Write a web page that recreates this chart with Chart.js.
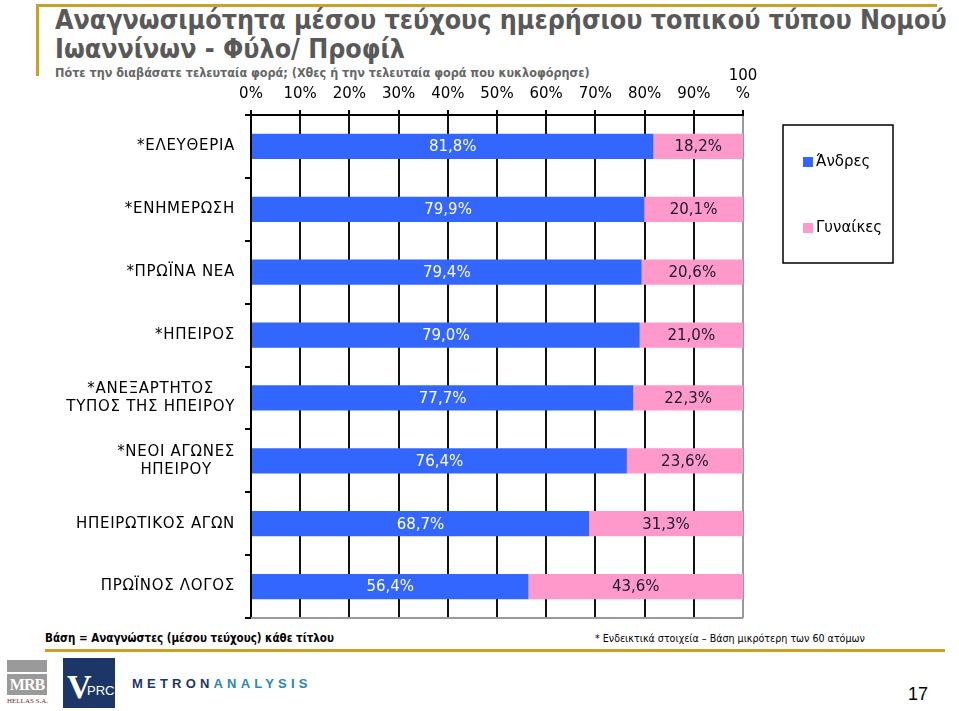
<!DOCTYPE html>
<html lang="el">
<head>
<meta charset="utf-8">
<title>Αναγνωσιμότητα - Φύλο</title>
<script src="https://cdn.jsdelivr.net/npm/chart.js@4.4.1/dist/chart.umd.min.js"></script>
<style>
  body { margin: 0; background: #fff; }
  #page { position: relative; width: 959px; height: 711px; overflow: hidden; font-family: "DejaVu Sans", sans-serif; }
  .gold-h { position: absolute; left: 37px; top: 4px; width: 900px; height: 3px; background: #c9a227; }
  .gold-v { position: absolute; left: 36px; top: 4px; width: 3px; height: 72px; background: #c9a227; }
  #title { position: absolute; left: 55px; top: 5px; font: bold 26.6px "DejaVu Sans Condensed", "DejaVu Sans", sans-serif; color: #595959; line-height: 29px; white-space: nowrap; }
  #subtitle { position: absolute; left: 55px; top: 65px; font: bold 12.5px "DejaVu Sans Condensed", "DejaVu Sans", sans-serif; color: #666; white-space: nowrap; }
  #chart-wrap { position: absolute; left: 0; top: 60px; width: 959px; height: 570px; }
  .foot-l { position: absolute; left: 45px; top: 631px; font: bold 11.5px "DejaVu Sans Condensed", "DejaVu Sans", sans-serif; color: #000; white-space: nowrap; }
  .foot-r { position: absolute; left: 595px; top: 632px; font: 10.6px "DejaVu Sans Condensed", "DejaVu Sans", sans-serif; color: #000; white-space: nowrap; }
  .gold-f { position: absolute; left: 45px; top: 649px; width: 900px; height: 3px; background: #c9a227; }
  .mrb-bar { position: absolute; left: 7px; top: 660px; width: 40px; height: 12px; background: #9a9a9a; }
  .mrb-box { position: absolute; left: 7px; top: 674px; width: 40px; height: 21px; background: #9a9a9a; color: #fff; font: bold 16px "Liberation Serif", serif; text-align: center; line-height: 22px; letter-spacing: -1px; }
  .mrb-sub { position: absolute; left: 7px; top: 697px; width: 40px; font: 7px "Liberation Serif", serif; color: #7a2a2a; text-align: center; white-space: nowrap; }
  .vprc { position: absolute; left: 63px; top: 658px; width: 52px; height: 50px; background: #1c3767; color: #fff; }
  .vprc .v { position: absolute; left: 4px; top: 10px; font: bold 34px "Liberation Serif", serif; }
  .vprc .prc { position: absolute; left: 24px; top: 25px; font: 13px "Liberation Sans", sans-serif; }
  .metron { position: absolute; left: 132px; top: 676px; font: bold 13px "Liberation Sans", sans-serif; letter-spacing: 4.2px; white-space: nowrap; }
  .metron .a { color: #1c3767; }
  .metron .b { color: #2a86b8; }
  .pageno { position: absolute; left: 908px; top: 684px; font: 18px "Liberation Sans", sans-serif; color: #000; }
</style>
</head>
<body>
<div id="page">
  <div class="gold-h"></div>
  <div class="gold-v"></div>
  <div id="title">Αναγνωσιμότητα μέσου τεύχους ημερήσιου τοπικού τύπου Νομού<br>Ιωαννίνων - Φύλο/ Προφίλ</div>
  <div id="subtitle">Πότε την διαβάσατε τελευταία φορά; (Χθες ή την τελευταία φορά που κυκλοφόρησε)</div>
  <div id="chart-wrap"><canvas id="genderChart"></canvas></div>
  <div class="foot-l">Βάση = Αναγνώστες (μέσου τεύχους) κάθε τίτλου</div>
  <div class="foot-r">* Ενδεικτικά στοιχεία – Βάση μικρότερη των 60 ατόμων</div>
  <div class="gold-f"></div>
  <div class="mrb-bar"></div>
  <div class="mrb-box">MRB</div>
  <div class="mrb-sub">HELLAS S.A.</div>
  <div class="vprc"><span class="v">V</span><span class="prc">PRC</span></div>
  <div class="metron"><span class="a">METRON</span><span class="b">ANALYSIS</span></div>
  <div class="pageno">17</div>
</div>
<script>
// titles (categories), top to bottom
const categories = [
    '*ΕΛΕΥΘΕΡΙΑ',
    '*ΕΝΗΜΕΡΩΣΗ',
    '*ΠΡΩΪΝΑ ΝΕΑ',
    '*ΗΠΕΙΡΟΣ',
    ['*ΑΝΕΞΑΡΤΗΤΟΣ', 'ΤΥΠΟΣ ΤΗΣ ΗΠΕΙΡΟΥ'],
    ['*ΝΕΟΙ ΑΓΩΝΕΣ', 'ΗΠΕΙΡΟΥ'],
    'ΗΠΕΙΡΩΤΙΚΟΣ ΑΓΩΝ',
    'ΠΡΩΪΝΟΣ ΛΟΓΟΣ'
];
const seriesNames = ['Άνδρες', 'Γυναίκες'];
const men = [81.8, 79.9, 79.4, 79.0, 77.7, 76.4, 68.7, 56.4];
const women = [18.2, 20.1, 20.6, 21.0, 22.3, 23.6, 31.3, 43.6];
const xTickLabels = ['0%', '10%', '20%', '30%', '40%', '50%', '60%', '70%', '80%', '90%', ['100', '%']];

const BLUE = '#3366ff';
const PINK = '#ff99cc';
const FONT = '"DejaVu Sans", sans-serif';

const fmt = v => v.toFixed(1).replace('.', ',') + '%';

// values inside bars
const barLabels = {
    id: 'barLabels',
    afterDatasetsDraw(chart) {
        const ctx = chart.ctx;
        ctx.save();
        ctx.font = '15px ' + FONT;
        ctx.textAlign = 'center';
        ctx.textBaseline = 'middle';
        chart.data.datasets.forEach((ds, di) => {
            chart.getDatasetMeta(di).data.forEach((bar, i) => {
                ctx.fillStyle = di === 0 ? '#ffffff' : '#1a1a2e';
                ctx.fillText(fmt(ds.data[i]), (bar.x + bar.base) / 2, bar.y + 1);
            });
        });
        ctx.restore();
    }
};

// category names, each block right-aligned, lines centred in the block
const catLabels = {
    id: 'catLabels',
    afterDraw(chart) {
        const ctx = chart.ctx;
        const yScale = chart.scales.y;
        ctx.save();
        ctx.font = '15px ' + FONT;
        ctx.letterSpacing = '0.7px';
        ctx.fillStyle = '#000';
        ctx.textAlign = 'center';
        ctx.textBaseline = 'middle';
        const right = chart.chartArea.left - 16;
        categories.forEach((c, i) => {
            const lines = Array.isArray(c) ? c : [c];
            const w = Math.max(...lines.map(l => ctx.measureText(l).width));
            const cy = yScale.getPixelForValue(i);
            const lh = 18;
            lines.forEach((l, k) => {
                ctx.fillText(l, right - w / 2, cy + (k - (lines.length - 1) / 2) * lh);
            });
        });
        ctx.letterSpacing = '0px';
        // bottom edge of plot
        const a = chart.chartArea;
        ctx.strokeStyle = '#9a9a9a';
        ctx.lineWidth = 2;
        ctx.beginPath();
        ctx.moveTo(a.left, a.bottom);
        ctx.lineTo(a.right, a.bottom);
        ctx.stroke();
        ctx.restore();
    }
};

// boxed legend on the right
const boxLegend = {
    id: 'boxLegend',
    afterDraw(chart) {
        const ctx = chart.ctx;
        const a = chart.chartArea;
        const bx = a.right + 40, by = a.top + 10, bw = 110, bh = 138;
        ctx.save();
        ctx.strokeStyle = '#000';
        ctx.lineWidth = 1.5;
        ctx.strokeRect(bx, by, bw, bh);
        ctx.font = '15px ' + FONT;
        ctx.textBaseline = 'middle';
        ctx.textAlign = 'left';
        chart.data.datasets.forEach((ds, i) => {
            const cy = by + 37 + i * 66;
            ctx.fillStyle = ds.backgroundColor;
            ctx.fillRect(bx + 20, cy - 5, 10, 10);
            ctx.fillStyle = '#000';
            ctx.fillText(ds.label, bx + 33, cy);
        });
        ctx.restore();
    }
};

const ctx = document.getElementById('genderChart').getContext('2d');
new Chart(ctx, {
    type: 'bar',
    data: {
        labels: categories,
        datasets: [
            { label: seriesNames[0], data: men, backgroundColor: BLUE },
            { label: seriesNames[1], data: women, backgroundColor: PINK }
        ]
    },
    options: {
        indexAxis: 'y',
        responsive: true,
        maintainAspectRatio: false,
        animation: false,
        layout: { padding: { top: 0, right: 216, bottom: 12, left: 0 } },
        datasets: { bar: { categoryPercentage: 1, barPercentage: 0.4, borderWidth: 0 } },
        plugins: { legend: { display: false }, tooltip: { enabled: false } },
        scales: {
            x: {
                position: 'top',
                stacked: true,
                min: 0,
                max: 100,
                afterFit: s => { s.height = 55; },
                ticks: {
                    stepSize: 10,
                    padding: 7,
                    maxRotation: 0,
                    autoSkip: false,
                    color: '#000',
                    font: { family: FONT, size: 15 },
                    callback: (v, i) => xTickLabels[i]
                },
                grid: {
                    color: c => (c.tick && c.tick.value === 100) ? '#9a9a9a' : '#111',
                    tickColor: '#000',
                    lineWidth: 2,
                    tickLength: 5
                },
                border: { color: '#000', width: 2 }
            },
            y: {
                stacked: true,
                offset: true,
                afterFit: s => { s.width = 251; },
                ticks: { display: false },
                grid: {
                    offset: true,
                    drawOnChartArea: false,
                    color: '#000',
                    lineWidth: 2,
                    tickLength: 6
                },
                border: { color: '#000', width: 2 }
            }
        }
    },
    plugins: [barLabels, catLabels, boxLegend]
});
</script>
</body>
</html>
